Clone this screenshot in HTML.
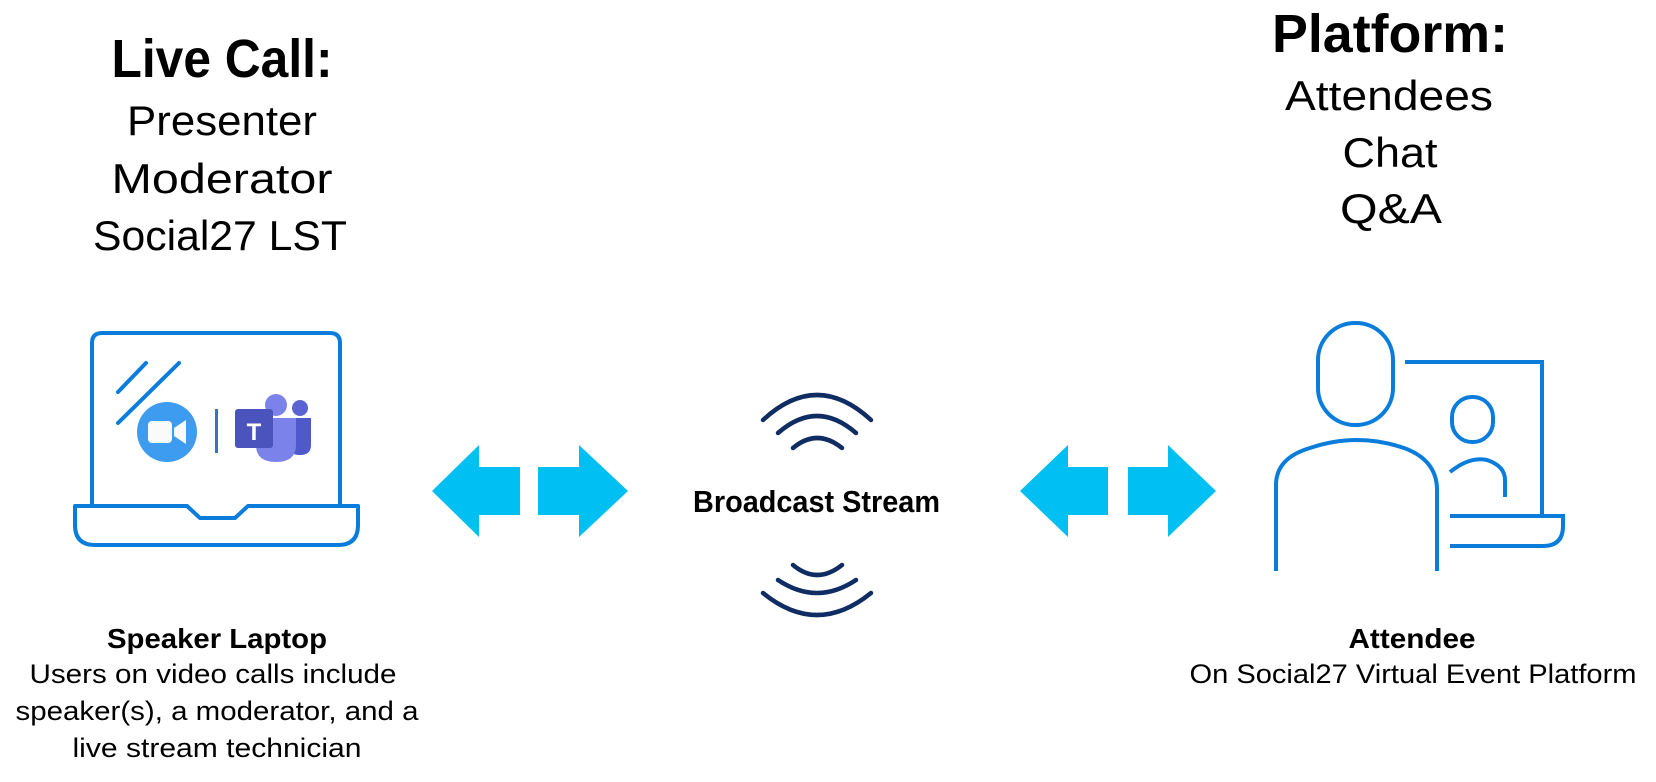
<!DOCTYPE html>
<html><head><meta charset="utf-8"><style>
html,body{margin:0;padding:0;background:#fff;}
svg{display:block;}
text{font-family:"Liberation Sans",sans-serif;fill:#000;}
</style></head><body>
<svg width="1656" height="782" viewBox="0 0 1656 782" xmlns="http://www.w3.org/2000/svg">
<!-- top-left text -->
<text x="222" y="77" font-size="54" font-weight="bold" text-anchor="middle" textLength="221" lengthAdjust="spacingAndGlyphs">Live Call:</text>
<text x="222" y="135" font-size="42" text-anchor="middle" textLength="190" lengthAdjust="spacingAndGlyphs">Presenter</text>
<text x="222" y="193" font-size="42" text-anchor="middle" textLength="221" lengthAdjust="spacingAndGlyphs">Moderator</text>
<text x="220" y="250" font-size="42" text-anchor="middle" textLength="254" lengthAdjust="spacingAndGlyphs">Social27 LST</text>
<!-- top-right text -->
<text x="1390" y="52" font-size="54" font-weight="bold" text-anchor="middle" textLength="236" lengthAdjust="spacingAndGlyphs">Platform:</text>
<text x="1389" y="110" font-size="42" text-anchor="middle" textLength="208" lengthAdjust="spacingAndGlyphs">Attendees</text>
<text x="1390" y="167" font-size="42" text-anchor="middle" textLength="95" lengthAdjust="spacingAndGlyphs">Chat</text>
<text x="1391" y="223" font-size="42" text-anchor="middle" textLength="102" lengthAdjust="spacingAndGlyphs">Q&amp;A</text>

<!-- laptop -->
<g fill="none" stroke="#0a7ddc" stroke-width="4" stroke-linejoin="round">
<path d="M92 506 V343 Q92 333 102 333 H330 Q340 333 340 343 V506"/>
<path d="M75 506 H187 L200 518 H235 L248 506 H358 V525 Q358 545 338 545 H95 Q75 545 75 525 Z"/>
<line x1="118" y1="392" x2="146" y2="363" stroke-linecap="round"/>
<line x1="118" y1="423" x2="179" y2="363" stroke-linecap="round"/>
</g>
<circle cx="167" cy="432" r="30" fill="#3d9cf0"/>
<rect x="148" y="421" width="24" height="22" rx="4" fill="#fafafa"/>
<path d="M174 428 L186 420 V444 L174 436 Z" fill="#fafafa"/>
<rect x="215" y="409" width="3" height="44" fill="#3f6fc4"/>
<circle cx="300" cy="408" r="8" fill="#5b63d3"/>
<path d="M288 418 H311 V445 Q311 455 300 455 Q288 455 288 445 Z" fill="#5059c9"/>
<circle cx="276" cy="405" r="11" fill="#7b83eb"/>
<path d="M256 418 H296 V445 Q296 462 276 462 Q256 462 256 445 Z" fill="#7b83eb"/>
<rect x="235" y="409" width="38" height="39" rx="3" fill="#4b53bc"/>
<text x="254" y="440" font-size="24" font-weight="bold" text-anchor="middle" style="fill:#fff">T</text>

<!-- arrows -->
<g fill="#00bff3">
<path d="M432 491 L479 445 V467 H520 V515 H479 V537 Z"/>
<path d="M628 491 L579 445 V467 H538 V515 H579 V537 Z"/>
<path d="M1020 491 L1068 445 V467 H1108 V515 H1068 V537 Z"/>
<path d="M1216 491 L1168 445 V467 H1128 V515 H1168 V537 Z"/>
</g>

<!-- wifi arcs -->
<g fill="none" stroke="#0f2d63" stroke-width="4.5" stroke-linecap="round">
<path d="M763 420 Q817 370 871 420"/>
<path d="M778 433 Q817 399 856 433"/>
<path d="M793 448 Q817 428 842 448"/>
<path d="M793 565 Q817 585 842 565"/>
<path d="M778 580 Q817 606 856 580"/>
<path d="M763 593 Q817 637 871 593"/>
</g>
<text x="693" y="512" font-size="31" font-weight="bold" textLength="247" lengthAdjust="spacingAndGlyphs">Broadcast Stream</text>

<!-- attendee icon -->
<g fill="none" stroke="#0a7ddc" stroke-width="4" stroke-linecap="butt">
<rect x="1318" y="323" width="75" height="102" rx="37"/>
<path d="M1276 571 V485 Q1276 458 1310 448 Q1357 432 1404 448 Q1437 460 1437 490 V571"/>
<rect x="1452" y="397" width="41" height="45" rx="20"/>
<path d="M1450 472 Q1470 456 1487 460 Q1505 466 1505 480 V497"/>
<path d="M1405 362 H1542 V516"/>
<path d="M1450 516 H1563 V526 Q1563 546 1543 546 H1450"/>
</g>

<!-- bottom labels -->
<text x="217" y="648" font-size="28" font-weight="bold" text-anchor="middle" textLength="220" lengthAdjust="spacingAndGlyphs">Speaker Laptop</text>
<text x="213" y="683" font-size="27" text-anchor="middle" textLength="367" lengthAdjust="spacingAndGlyphs">Users on video calls include</text>
<text x="217" y="720" font-size="27" text-anchor="middle" textLength="403" lengthAdjust="spacingAndGlyphs">speaker(s), a moderator, and a</text>
<text x="217" y="757" font-size="27" text-anchor="middle" textLength="289" lengthAdjust="spacingAndGlyphs">live stream technician</text>
<text x="1412" y="648" font-size="28" font-weight="bold" text-anchor="middle" textLength="127" lengthAdjust="spacingAndGlyphs">Attendee</text>
<text x="1413" y="683" font-size="27" text-anchor="middle" textLength="447" lengthAdjust="spacingAndGlyphs">On Social27 Virtual Event Platform</text>
</svg>
</body></html>
